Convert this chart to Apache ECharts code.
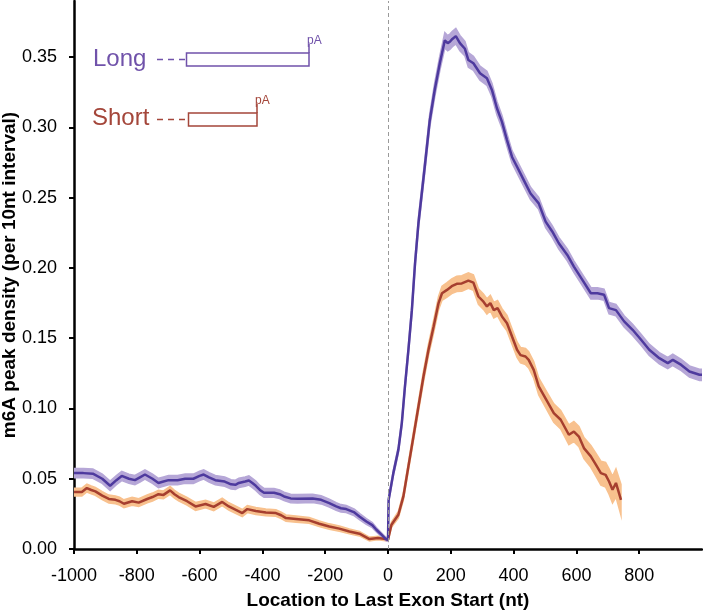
<!DOCTYPE html>
<html>
<head>
<meta charset="utf-8">
<script src="https://cdn.jsdelivr.net/npm/echarts@6.0.0/dist/echarts.min.js"></script>
<style>
html,body{margin:0;padding:0;background:#fff;}
#chart{width:703px;height:613px;}
</style>
</head>
<body>
<div id="chart"></div>
<script>
// ---- data ----
var xTicks = [-1000, -800, -600, -400, -200, 0, 200, 400, 600, 800];
var yTicks = [0, 0.05, 0.10, 0.15, 0.20, 0.25, 0.30, 0.35];

var longX = [-1000,-970,-940,-910,-885,-865,-848,-825,-806,-790,
  -774,-750,-731,-715,-699,-670,-646,-620,-600,-587,
  -570,-550,-520,-500,-486,-475,-455,-443,-432,-421,
  -408,-395,-363,-345,-331,-310,-288,-240,-213,-187,
  -165,-150,-133,-107,-90,-69,-50,-37,-20,-7,
  0,2,17,33,44,54,65,76,86,97,
  117,133,149,165,181,190,197,205,216,229,
  245,256,272,293,315,331,347,363,379,395,
  411,432,454,480,502,523,544,571,592,619,
  646,667,688,704,726,752,779,806,832,864,
  891,907,934,960,992,1000];
var longY = [.054,.054,.0536,.050,.045,.049,.052,.050,.049,.051,
  .053,.050,.047,.048,.049,.049,.050,.050,.052,.053,
  .051,.049,.048,.046,.0457,.047,.048,.0488,.047,.045,
  .042,.040,.040,.039,.0374,.036,.0358,.036,.035,.0327,
  .0303,.029,.0284,.026,.023,.0196,.017,.0137,.010,.0071,
  .0066,.035,.054,.0706,.0896,.1157,.1418,.170,.203,.232,
  .272,.305,.327,.3457,.362,.360,.361,.363,.365,.360,
  .356,.348,.3457,.3386,.335,.3267,.3137,.304,.291,.279,
  .272,.2627,.253,.246,.233,.226,.2176,.2093,.201,.1915,
  .182,.182,.181,.1714,.170,.162,.156,.1489,.1418,.1358,
  .1323,.1346,.131,.1263,.124,.124];
var longSE = [.0033,.0033,.0033,.0033,.0033,.0033,.0033,.0033,.0033,.0033,
  .0033,.0033,.0033,.0033,.0033,.0033,.0033,.0033,.0033,.0033,
  .0033,.0033,.0033,.0033,.0033,.0033,.0033,.0033,.0033,.0033,
  .0032,.0032,.0031,.0031,.003,.003,.003,.0029,.0029,.0028,
  .0027,.0026,.0025,.0024,.0022,.002,.0018,.0016,.0014,.0012,
  .0012,.0018,.0022,.0024,.0026,.003,.0033,.0036,.004,.0042,
  .0045,.0048,.005,.0052,.0055,.0055,.0055,.0055,.0055,.0055,
  .0052,.0052,.005,.005,.005,.0048,.0048,.0046,.0046,.0045,
  .0045,.0044,.0044,.0043,.0043,.0042,.0042,.0042,.0041,.0041,
  .0041,.004,.004,.004,.004,.004,.004,.004,.004,.004,
  .004,.004,.004,.004,.004,.004];

var shortX = [-1000,-975,-959,-945,-932,-910,-889,-868,-855,-841,
  -815,-794,-767,-750,-731,-715,-694,-680,-667,-640,
  -613,-581,-555,-528,-507,-486,-464,-448,-421,-389,
  -357,-340,-325,-293,-251,-219,-187,-155,-123,-91,
  -59,-45,-32,-7,0,11,33,49,65,81,
  97,113,129,145,161,172,188,203,219,235,
  256,272,288,304,315,326,337,349,363,379,
  395,411,422,438,448,464,480,507,528,550,
  576,592,608,624,646,662,678,693,704,715,
  726,742];
var shortY = [.0405,.0405,.0434,.042,.041,.038,.0356,.035,.034,.0322,
  .034,.033,.0356,.037,.039,.0385,.0417,.039,.037,.034,
  .0303,.032,.030,.0335,.0303,.028,.0256,.0284,.027,.026,
  .0256,.024,.022,.0213,.0204,.018,.016,.0145,.0125,.0109,
  .0071,.0075,.0078,.0071,.0066,.0173,.0244,.0374,.0588,.080,
  .1014,.1228,.1418,.158,.175,.182,.1844,.187,.1887,.189,
  .191,.1896,.1797,.176,.1726,.175,.170,.1714,.1655,.1607,
  .1512,.1418,.138,.137,.1346,.1275,.1157,.105,.0967,.092,
  .0813,.0836,.080,.0718,.0659,.060,.054,.0528,.048,.0422,
  .047,.035];
var shortSE = [.0028,.0028,.0028,.0028,.0028,.0028,.0028,.0028,.0028,.0028,
  .0028,.0028,.0028,.0028,.0028,.0028,.0028,.0028,.0028,.0028,
  .0028,.0027,.0027,.0027,.0026,.0026,.0025,.0025,.0025,.0024,
  .0023,.0023,.0022,.0022,.0021,.002,.0019,.0018,.0017,.0016,
  .0014,.0013,.0012,.0012,.0012,.0018,.0024,.0026,.003,.0033,
  .0036,.004,.0042,.0045,.0048,.005,.0052,.0052,.0055,.0055,
  .0055,.0055,.0055,.0055,.0055,.0055,.0055,.0055,.0055,.0055,
  .0055,.0055,.0055,.0058,.0058,.006,.006,.0063,.0066,.0066,
  .007,.0072,.0072,.0075,.0078,.0082,.0085,.0088,.009,.0095,
  .010,.011];

// ---- build series ----
function pts(xs, ys) { return xs.map(function (x, i) { return [x, ys[i]]; }); }

var FONT = '"Liberation Sans", Arial, Helvetica, sans-serif';
var LONG_LINE = '#4e3a9e', LONG_BAND = '#b6a7d7';
var SHORT_LINE = '#a63f2f', SHORT_BAND = '#f8c18e';
var LONG_TEXT = '#7052aa', SHORT_TEXT = '#a4463a';

// error band drawn as a polygon through the axis scales (api.coord)
function bandSeries(xs, ys, se, color) {
  return {
    type: 'custom', silent: true, z: 1, clip: true,
    data: [[xs[0], ys[0]]],
    renderItem: function (params, api) {
      var poly = [];
      for (var i = 0; i < xs.length; i++) poly.push(api.coord([xs[i], ys[i] + se[i]]));
      for (var j = xs.length - 1; j >= 0; j--) poly.push(api.coord([xs[j], ys[j] - se[j]]));
      return { type: 'polygon', shape: { points: poly }, style: { fill: color, stroke: color, lineWidth: 1.5 } };
    }
  };
}

var chart = echarts.init(document.getElementById('chart'), null, { renderer: 'canvas' });
chart.setOption({
  animation: false,
  backgroundColor: '#fff',
  grid: { left: 74, right: 1, top: 1, bottom: 64, containLabel: false, outerBoundsMode: 'none' },
  xAxis: {
    type: 'value', min: -1000, max: 1000, interval: 200,
    name: 'Location to Last Exon Start (nt)', nameLocation: 'middle', nameGap: 42,
    nameMoveOverlap: false,
    nameTextStyle: { fontFamily: FONT, fontWeight: 'bold', fontSize: 19, color: '#000' },
    axisLine: { show: true, onZero: false, lineStyle: { color: '#000', width: 2.5 } },
    axisTick: { show: true, length: 5, customValues: xTicks, lineStyle: { color: '#000', width: 2 } },
    axisLabel: { fontFamily: FONT, fontSize: 18, color: '#000', margin: 18, customValues: xTicks,
      formatter: function (v) { return String(v); } },
    splitLine: { show: false }
  },
  yAxis: {
    type: 'value', min: 0, max: 0.39,
    name: 'm6A peak density (per 10nt interval)', nameLocation: 'middle', nameGap: 55,
    nameMoveOverlap: false,
    nameTextStyle: { fontFamily: FONT, fontWeight: 'bold', fontSize: 19, color: '#000' },
    axisLine: { show: true, onZero: false, lineStyle: { color: '#000', width: 2.5 } },
    axisTick: { show: true, length: 5, customValues: yTicks, lineStyle: { color: '#000', width: 2 } },
    axisLabel: { fontFamily: FONT, fontSize: 18, color: '#000', margin: 17, customValues: yTicks,
      formatter: function (v) { return v.toFixed(2); } },
    splitLine: { show: false }
  },
  series: [
    bandSeries(shortX, shortY, shortSE, SHORT_BAND),
    bandSeries(longX, longY, longSE, LONG_BAND),
    { name: 'Short', type: 'line', data: pts(shortX, shortY), symbol: 'none', z: 3,
      lineStyle: { color: SHORT_LINE, width: 2.5 } },
    { name: 'Long', type: 'line', data: pts(longX, longY), symbol: 'none', z: 3,
      lineStyle: { color: LONG_LINE, width: 2.5 },
      markLine: { silent: true, symbol: 'none', animation: false,
        label: { show: false },
        lineStyle: { color: '#9a9a9a', type: [4, 3], width: 1 },
        data: [{ xAxis: 0 }] } }
  ],
  graphic: [
    // Long schematic
    { type: 'text', x: 93, y: 59, style: { text: 'Long', fill: LONG_TEXT, fontSize: 24, fontFamily: FONT, verticalAlign: 'middle' } },
    { type: 'line', shape: { x1: 157, y1: 59.5, x2: 186, y2: 59.5 }, style: { stroke: LONG_TEXT, lineWidth: 1.5, lineDash: [6, 5] } },
    { type: 'rect', shape: { x: 186.5, y: 53, width: 122.5, height: 13 }, style: { fill: '#fff', stroke: LONG_TEXT, lineWidth: 1.5 } },
    { type: 'line', shape: { x1: 309, y1: 53, x2: 309, y2: 44 }, style: { stroke: LONG_TEXT, lineWidth: 1.5 } },
    { type: 'text', x: 307, y: 41, style: { text: 'pA', fill: LONG_TEXT, fontSize: 12, fontFamily: FONT, verticalAlign: 'middle' } },
    // Short schematic
    { type: 'text', x: 92, y: 118, style: { text: 'Short', fill: SHORT_TEXT, fontSize: 24, fontFamily: FONT, verticalAlign: 'middle' } },
    { type: 'line', shape: { x1: 157, y1: 119.5, x2: 188, y2: 119.5 }, style: { stroke: SHORT_TEXT, lineWidth: 1.5, lineDash: [6, 5] } },
    { type: 'rect', shape: { x: 188.5, y: 113, width: 68.5, height: 13 }, style: { fill: '#fff', stroke: SHORT_TEXT, lineWidth: 1.5 } },
    { type: 'line', shape: { x1: 257, y1: 113, x2: 257, y2: 104 }, style: { stroke: SHORT_TEXT, lineWidth: 1.5 } },
    { type: 'text', x: 255, y: 101, style: { text: 'pA', fill: SHORT_TEXT, fontSize: 12, fontFamily: FONT, verticalAlign: 'middle' } }
  ]
});
</script>
</body>
</html>
